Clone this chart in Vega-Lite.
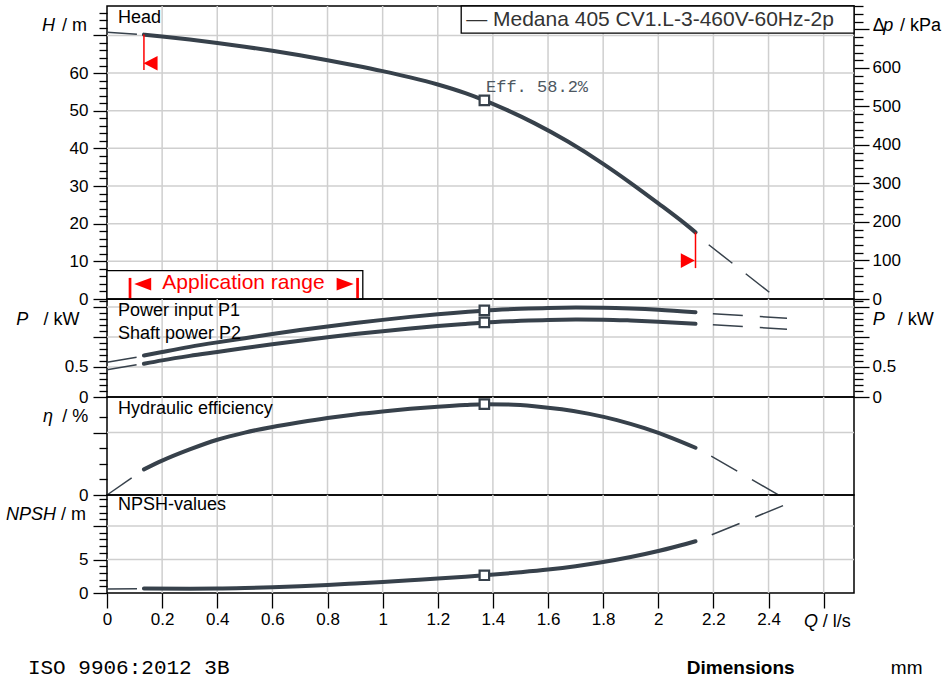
{
"$schema": "https://vega.github.io/schema/vega-lite/v6.json",
"padding": {"left": 5, "top": 4, "right": 0, "bottom": 0},
"background": "#ffffff",
"bounds": "flush",
"spacing": 0,
"config": {"view": {"stroke": "#000000", "strokeWidth": 1.5}, "font": "Liberation Sans", "axis": {"labelFont": "Liberation Sans", "labelFontSize": 17, "labelColor": "#000000", "tickColor": "#000000", "tickWidth": 1.3, "labelFlush": false, "labelOverlap": false, "labelBound": false, "grid": false, "domain": false}},
"resolve": {"scale": {"x": "independent", "y": "independent"}, "axis": {"x": "independent", "y": "independent"}},
"datasets": {
"xgrid": [{"q":0.2},{"q":0.4},{"q":0.6},{"q":0.8},{"q":1.0},{"q":1.2},{"q":1.4},{"q":1.6},{"q":1.8},{"q":2.0},{"q":2.2},{"q":2.4},{"q":2.6}],
"origin": [{"q":0,"v":0}],
"head_main": [{"q":0.134,"v":70.2},{"q":0.2,"v":69.7},{"q":0.3,"v":68.9},{"q":0.4,"v":68.0},{"q":0.5,"v":67.0},{"q":0.6,"v":65.9},{"q":0.7,"v":64.7},{"q":0.8,"v":63.4},{"q":0.9,"v":62.0},{"q":1.0,"v":60.5},{"q":1.1,"v":58.85},{"q":1.2,"v":56.95},{"q":1.3,"v":54.65},{"q":1.369,"v":52.75},{"q":1.45,"v":50.2},{"q":1.55,"v":46.7},{"q":1.672,"v":41.8},{"q":1.8,"v":35.9},{"q":1.9,"v":30.8},{"q":2.0,"v":25.4},{"q":2.1,"v":19.8},{"q":2.135,"v":17.7}],
"head_ext": [{"seg":"L","q":0,"v":70.8},{"seg":"L","q":0.109,"v":70.3},{"seg":"R","q":2.183,"v":14.4},{"seg":"R","q":2.3,"v":7.7},{"seg":"R","q":2.406,"v":1.6}],
"pow_main": [{"s":"P1","q":0.134,"v":0.692},{"s":"P1","q":0.2,"v":0.75},{"s":"P1","q":0.3,"v":0.835},{"s":"P1","q":0.4,"v":0.91},{"s":"P1","q":0.5,"v":0.98},{"s":"P1","q":0.6,"v":1.05},{"s":"P1","q":0.7,"v":1.115},{"s":"P1","q":0.8,"v":1.175},{"s":"P1","q":0.9,"v":1.232},{"s":"P1","q":1.0,"v":1.285},{"s":"P1","q":1.1,"v":1.335},{"s":"P1","q":1.2,"v":1.378},{"s":"P1","q":1.3,"v":1.415},{"s":"P1","q":1.369,"v":1.442},{"s":"P1","q":1.5,"v":1.47},{"s":"P1","q":1.6,"v":1.485},{"s":"P1","q":1.7,"v":1.49},{"s":"P1","q":1.8,"v":1.487},{"s":"P1","q":1.9,"v":1.475},{"s":"P1","q":2.0,"v":1.455},{"s":"P1","q":2.135,"v":1.413},
{"s":"P2","q":0.134,"v":0.553},{"s":"P2","q":0.2,"v":0.61},{"s":"P2","q":0.3,"v":0.685},{"s":"P2","q":0.4,"v":0.75},{"s":"P2","q":0.5,"v":0.815},{"s":"P2","q":0.6,"v":0.878},{"s":"P2","q":0.7,"v":0.938},{"s":"P2","q":0.8,"v":0.995},{"s":"P2","q":0.9,"v":1.048},{"s":"P2","q":1.0,"v":1.097},{"s":"P2","q":1.1,"v":1.142},{"s":"P2","q":1.2,"v":1.182},{"s":"P2","q":1.3,"v":1.218},{"s":"P2","q":1.369,"v":1.242},{"s":"P2","q":1.5,"v":1.27},{"s":"P2","q":1.6,"v":1.285},{"s":"P2","q":1.7,"v":1.29},{"s":"P2","q":1.8,"v":1.288},{"s":"P2","q":1.9,"v":1.275},{"s":"P2","q":2.0,"v":1.255},{"s":"P2","q":2.135,"v":1.22}],
"pow_ext": [{"seg":"P1L","q":0,"v":0.58},{"seg":"P1L","q":0.109,"v":0.663},{"seg":"P2L","q":0,"v":0.453},{"seg":"P2L","q":0.109,"v":0.537},{"seg":"P1R","q":2.198,"v":1.387},{"seg":"P1R","q":2.467,"v":1.313},{"seg":"P2R","q":2.198,"v":1.203},{"seg":"P2R","q":2.467,"v":1.13}],
"eff_main": [{"q":0.134,"v":16.4},{"q":0.2,"v":22.0},{"q":0.3,"v":29.2},{"q":0.4,"v":35.4},{"q":0.5,"v":40.0},{"q":0.6,"v":43.6},{"q":0.7,"v":46.6},{"q":0.8,"v":49.3},{"q":0.9,"v":51.6},{"q":1.0,"v":53.5},{"q":1.1,"v":55.2},{"q":1.2,"v":56.6},{"q":1.3,"v":57.7},{"q":1.369,"v":58.2},{"q":1.45,"v":58.0},{"q":1.55,"v":56.9},{"q":1.65,"v":54.9},{"q":1.75,"v":52.0},{"q":1.85,"v":48.0},{"q":1.95,"v":42.8},{"q":2.05,"v":36.5},{"q":2.135,"v":30.3}],
"eff_ext": [{"seg":"L","q":0,"v":0},{"seg":"L","q":0.091,"v":11.1},{"seg":"R","q":2.192,"v":24.9},{"seg":"R","q":2.437,"v":0}],
"npsh_main": [{"q":0.134,"v":0.66},{"q":0.3,"v":0.64},{"q":0.4,"v":0.66},{"q":0.5,"v":0.74},{"q":0.6,"v":0.86},{"q":0.7,"v":1.02},{"q":0.8,"v":1.2},{"q":0.9,"v":1.42},{"q":1.0,"v":1.65},{"q":1.1,"v":1.9},{"q":1.2,"v":2.16},{"q":1.3,"v":2.44},{"q":1.369,"v":2.65},{"q":1.5,"v":3.1},{"q":1.6,"v":3.5},{"q":1.7,"v":4.0},{"q":1.8,"v":4.62},{"q":1.9,"v":5.37},{"q":2.0,"v":6.27},{"q":2.1,"v":7.32},{"q":2.135,"v":7.74}],
"npsh_ext": [{"seg":"L","q":0,"v":0.6},{"seg":"L","q":0.109,"v":0.62},{"seg":"R","q":2.194,"v":8.7},{"seg":"R","q":2.455,"v":13.1}]
},
"vconcat": [
{
"width": 747, "height": 293,
"resolve": {"scale": {"y": "independent"}, "axis": {"y": "independent"}},
"layer": [
{
"layer": [
{"data": {"name": "xgrid"},
 "mark": {"type": "rule", "color": "#cfcfcf", "strokeWidth": 1.5},
 "encoding": {"x": {"field":"q","type":"quantitative","scale":{"domain":[0,2.71],"nice":false,"zero":false},"axis":null}}},
{"data": {"values": [{"v":10},{"v":20},{"v":30},{"v":40},{"v":50},{"v":60},{"v":70}]},
 "mark": {"type": "rule", "color": "#cfcfcf", "strokeWidth": 1.5},
 "encoding": {"y": {"field":"v","type":"quantitative","scale":{"domain":[0,77.8],"nice":false,"zero":false},"axis":null}}},
{"data": {"values": [{"q1":1.285,"q2":2.71,"v1":70.6,"v2":77.8},{"q1":0,"q2":0.928,"v1":0,"v2":7.54}]},
 "mark": {"type": "rect", "fill": "#ffffff", "stroke": "#000000", "strokeWidth": 1.3},
 "encoding": {"x": {"field":"q1","type":"quantitative","scale":{"domain":[0,2.71],"nice":false,"zero":false},"axis":null},"x2":{"field":"q2"},
  "y": {"field":"v1","type":"quantitative","scale":{"domain":[0,77.8],"nice":false,"zero":false},"axis":null},"y2":{"field":"v2"}}},
{"data": {"name": "head_main"},
 "mark": {"type": "line", "color": "#37414b", "strokeWidth": 4, "interpolate": "monotone", "strokeCap": "round"},
 "encoding": {
  "x": {"field":"q","type":"quantitative","scale":{"domain":[0,2.71],"nice":false,"zero":false},"axis":null},
  "y": {"field":"v","type":"quantitative","scale":{"domain":[0,77.8],"nice":false,"zero":false},"axis":null}}},
{"data": {"name": "head_ext"},
 "mark": {"type": "line", "color": "#37414b", "strokeWidth": 1.5, "strokeDash": [30, 17]},
 "encoding": {"detail": {"field":"seg"},
  "x": {"field":"q","type":"quantitative","scale":{"domain":[0,2.71],"nice":false,"zero":false},"axis":null},
  "y": {"field":"v","type":"quantitative","scale":{"domain":[0,77.8],"nice":false,"zero":false},"axis":null}}},
{"data": {"values": [{"q":0.134,"v1":60.8,"v2":70.2},{"q":2.135,"v1":8.2,"v2":17.7}]},
 "mark": {"type": "rule", "color": "#ff0000", "strokeWidth": 1.5},
 "encoding": {"x": {"field":"q","type":"quantitative","scale":{"domain":[0,2.71],"nice":false,"zero":false},"axis":null},
  "y": {"field":"v1","type":"quantitative","scale":{"domain":[0,77.8],"nice":false,"zero":false},"axis":null},"y2":{"field":"v2"}}},
{"data": {"values": [{"q":0.0835,"v1":0,"v2":5.6},{"q":0.909,"v1":0,"v2":5.6}]},
 "mark": {"type": "rule", "color": "#ff0000", "strokeWidth": 2.7},
 "encoding": {"x": {"field":"q","type":"quantitative","scale":{"domain":[0,2.71],"nice":false,"zero":false},"axis":null},
  "y": {"field":"v1","type":"quantitative","scale":{"domain":[0,77.8],"nice":false,"zero":false},"axis":null},"y2":{"field":"v2"}}},
{"data": {"values": [{"q":0.158,"v":62.6}]},
 "mark": {"type": "point", "shape": "M-1,0L1,-1.05L1,1.05Z", "size": 196, "filled": true, "color": "#ff0000", "opacity": 1},
 "encoding": {"x": {"field":"q","type":"quantitative","scale":{"domain":[0,2.71],"nice":false,"zero":false},"axis":null},
  "y": {"field":"v","type":"quantitative","scale":{"domain":[0,77.8],"nice":false,"zero":false},"axis":null}}},
{"data": {"values": [{"q":2.107,"v":10.2}]},
 "mark": {"type": "point", "shape": "M1,0L-1,-1.05L-1,1.05Z", "size": 196, "filled": true, "color": "#ff0000", "opacity": 1},
 "encoding": {"x": {"field":"q","type":"quantitative","scale":{"domain":[0,2.71],"nice":false,"zero":false},"axis":null},
  "y": {"field":"v","type":"quantitative","scale":{"domain":[0,77.8],"nice":false,"zero":false},"axis":null}}},
{"data": {"values": [{"q":0.1295,"v":3.96}]},
 "mark": {"type": "point", "shape": "M-1,0L1,-0.74L1,0.74Z", "size": 290, "filled": true, "color": "#ff0000", "opacity": 1},
 "encoding": {"x": {"field":"q","type":"quantitative","scale":{"domain":[0,2.71],"nice":false,"zero":false},"axis":null},
  "y": {"field":"v","type":"quantitative","scale":{"domain":[0,77.8],"nice":false,"zero":false},"axis":null}}},
{"data": {"values": [{"q":0.864,"v":3.96}]},
 "mark": {"type": "point", "shape": "M1,0L-1,-0.74L-1,0.74Z", "size": 290, "filled": true, "color": "#ff0000", "opacity": 1},
 "encoding": {"x": {"field":"q","type":"quantitative","scale":{"domain":[0,2.71],"nice":false,"zero":false},"axis":null},
  "y": {"field":"v","type":"quantitative","scale":{"domain":[0,77.8],"nice":false,"zero":false},"axis":null}}},
{"data": {"values": [{"q":1.369,"v":52.75}]},
 "mark": {"type": "point", "shape": "square", "size": 90, "filled": false, "fill": "#ffffff", "stroke": "#37414b", "strokeWidth": 2.2, "opacity": 1},
 "encoding": {"x": {"field":"q","type":"quantitative","scale":{"domain":[0,2.71],"nice":false,"zero":false},"axis":null},
  "y": {"field":"v","type":"quantitative","scale":{"domain":[0,77.8],"nice":false,"zero":false},"axis":null}}},
{"data": {"values": [{"q":0.04,"v":74.6,"t":"Head"},{"q":2.778,"v":72.6,"t":"Δ"},{"q":2.877,"v":72.6,"t":"/ kPa"}]},
 "mark": {"type": "text", "align": "left", "baseline": "middle", "fontSize": 18, "color": "#000000"},
 "encoding": {"text": {"field":"t"},"x": {"field":"q","type":"quantitative","scale":{"domain":[0,2.71],"nice":false,"zero":false},"axis":null},
  "y": {"field":"v","type":"quantitative","scale":{"domain":[0,77.8],"nice":false,"zero":false},"axis":null}}},
{"data": {"values": [{"q":2.816,"v":72.6,"t":"p"}]},
 "mark": {"type": "text", "align": "left", "baseline": "middle", "fontSize": 18, "fontStyle": "italic", "color": "#000000"},
 "encoding": {"text": {"field":"t"},"x": {"field":"q","type":"quantitative","scale":{"domain":[0,2.71],"nice":false,"zero":false},"axis":null},
  "y": {"field":"v","type":"quantitative","scale":{"domain":[0,77.8],"nice":false,"zero":false},"axis":null}}},
{"data": {"values": [{"q":-0.189,"v":72.6,"t":"H"}]},
 "mark": {"type": "text", "align": "right", "baseline": "middle", "fontSize": 18, "fontStyle": "italic", "color": "#000000"},
 "encoding": {"text": {"field":"t"},"x": {"field":"q","type":"quantitative","scale":{"domain":[0,2.71],"nice":false,"zero":false},"axis":null},
  "y": {"field":"v","type":"quantitative","scale":{"domain":[0,77.8],"nice":false,"zero":false},"axis":null}}},
{"data": {"values": [{"q":-0.0726,"v":72.6,"t":"/ m"}]},
 "mark": {"type": "text", "align": "right", "baseline": "middle", "fontSize": 18, "color": "#000000"},
 "encoding": {"text": {"field":"t"},"x": {"field":"q","type":"quantitative","scale":{"domain":[0,2.71],"nice":false,"zero":false},"axis":null},
  "y": {"field":"v","type":"quantitative","scale":{"domain":[0,77.8],"nice":false,"zero":false},"axis":null}}},
{"data": {"values": [{"q":1.303,"v":74.1,"t":"— Medana 405 CV1.L-3-460V-60Hz-2p"}]},
 "mark": {"type": "text", "align": "left", "baseline": "middle", "fontSize": 21, "color": "#333333"},
 "encoding": {"text": {"field":"t"},"x": {"field":"q","type":"quantitative","scale":{"domain":[0,2.71],"nice":false,"zero":false},"axis":null},
  "y": {"field":"v","type":"quantitative","scale":{"domain":[0,77.8],"nice":false,"zero":false},"axis":null}}},
{"data": {"values": [{"q":1.375,"v":56.2,"t":"Eff. 58.2%"}]},
 "mark": {"type": "text", "align": "left", "baseline": "middle", "fontSize": 17, "font": "Liberation Mono", "color": "#4d5761"},
 "encoding": {"text": {"field":"t"},"x": {"field":"q","type":"quantitative","scale":{"domain":[0,2.71],"nice":false,"zero":false},"axis":null},
  "y": {"field":"v","type":"quantitative","scale":{"domain":[0,77.8],"nice":false,"zero":false},"axis":null}}},
{"data": {"values": [{"q":0.495,"v":4.25,"t":"Application range"}]},
 "mark": {"type": "text", "align": "center", "baseline": "middle", "fontSize": 21, "color": "#ff0000"},
 "encoding": {"text": {"field":"t"},"x": {"field":"q","type":"quantitative","scale":{"domain":[0,2.71],"nice":false,"zero":false},"axis":null},
  "y": {"field":"v","type":"quantitative","scale":{"domain":[0,77.8],"nice":false,"zero":false},"axis":null}}}
]
},
{"data": {"name": "origin"},
 "mark": {"type": "point", "opacity": 0},
 "encoding": {"x": {"field":"q","type":"quantitative","scale":{"domain":[0,2.71],"nice":false,"zero":false},"axis":null},
  "y": {"field":"v","type":"quantitative","scale":{"domain":[0,77.8],"nice":false,"zero":false},
   "axis":{"orient":"left","values":[0,2,4,6,8,10,12,14,16,18,20,22,24,26,28,30,32,34,36,38,40,42,44,46,48,50,52,54,56,58,60,62,64,66,68,70,72,74,76],
    "title":null,"domain":false,"grid":false,
    "tickSize":{"condition":{"test":"datum.value % 10 === 0","value":14},"value":8},
    "labelFontSize":{"condition":{"test":"datum.value % 10 === 0 && datum.value <= 60","value":17},"value":1},
    "labelExpr":"datum.value % 10 === 0 && datum.value <= 60 ? '' + datum.value : ''","labelPadding":5}}}},
{"data": {"name": "origin"},
 "mark": {"type": "point", "opacity": 0},
 "encoding": {"x": {"field":"q","type":"quantitative","scale":{"domain":[0,2.71],"nice":false,"zero":false},"axis":null},
  "y": {"field":"v","type":"quantitative","scale":{"domain":[0,761],"nice":false,"zero":false},
   "axis":{"orient":"right","values":[0,20,40,60,80,100,120,140,160,180,200,220,240,260,280,300,320,340,360,380,400,420,440,460,480,500,520,540,560,580,600,620,640,660,680,700,720,740,760],
    "title":null,"domain":false,"grid":false,
    "tickSize":{"condition":{"test":"datum.value % 100 === 0","value":15},"value":9},
    "labelFontSize":{"condition":{"test":"datum.value % 100 === 0 && datum.value <= 600","value":17},"value":1},
    "labelExpr":"datum.value % 100 === 0 && datum.value <= 600 ? '' + datum.value : ''","labelPadding":3}}}}
]
},
{
"width": 747, "height": 98,
"resolve": {"scale": {"y": "independent"}, "axis": {"y": "independent"}},
"layer": [
{
"layer": [
{"data": {"name": "xgrid"},
 "mark": {"type": "rule", "color": "#cfcfcf", "strokeWidth": 1.5},
 "encoding": {"x": {"field":"q","type":"quantitative","scale":{"domain":[0,2.71],"nice":false,"zero":false},"axis":null}}},
{"data": {"values": [{"v":0.5},{"v":1.0},{"v":1.5}]},
 "mark": {"type": "rule", "color": "#cfcfcf", "strokeWidth": 1.5},
 "encoding": {"y": {"field":"v","type":"quantitative","scale":{"domain":[0,1.633],"nice":false,"zero":false},"axis":null}}},
{"data": {"name": "pow_main"},
 "mark": {"type": "line", "color": "#37414b", "strokeWidth": 4, "interpolate": "monotone", "strokeCap": "round"},
 "encoding": {"detail": {"field":"s"},
  "x": {"field":"q","type":"quantitative","scale":{"domain":[0,2.71],"nice":false,"zero":false},"axis":null},
  "y": {"field":"v","type":"quantitative","scale":{"domain":[0,1.633],"nice":false,"zero":false},"axis":null}}},
{"data": {"name": "pow_ext"},
 "mark": {"type": "line", "color": "#37414b", "strokeWidth": 1.5, "strokeDash": [30, 17]},
 "encoding": {"detail": {"field":"seg"},
  "x": {"field":"q","type":"quantitative","scale":{"domain":[0,2.71],"nice":false,"zero":false},"axis":null},
  "y": {"field":"v","type":"quantitative","scale":{"domain":[0,1.633],"nice":false,"zero":false},"axis":null}}},
{"data": {"values": [{"q":1.369,"v":1.442},{"q":1.369,"v":1.242}]},
 "mark": {"type": "point", "shape": "square", "size": 90, "filled": false, "fill": "#ffffff", "stroke": "#37414b", "strokeWidth": 2.2, "opacity": 1},
 "encoding": {"x": {"field":"q","type":"quantitative","scale":{"domain":[0,2.71],"nice":false,"zero":false},"axis":null},
  "y": {"field":"v","type":"quantitative","scale":{"domain":[0,1.633],"nice":false,"zero":false},"axis":null}}},
{"data": {"values": [{"q":0.04,"v":1.425,"t":"Power input P1"},{"q":0.04,"v":1.058,"t":"Shaft power P2"},{"q":2.869,"v":1.29,"t":"/ kW"}]},
 "mark": {"type": "text", "align": "left", "baseline": "middle", "fontSize": 18, "color": "#000000"},
 "encoding": {"text": {"field":"t"},"x": {"field":"q","type":"quantitative","scale":{"domain":[0,2.71],"nice":false,"zero":false},"axis":null},
  "y": {"field":"v","type":"quantitative","scale":{"domain":[0,1.633],"nice":false,"zero":false},"axis":null}}},
{"data": {"values": [{"q":2.778,"v":1.29,"t":"P"}]},
 "mark": {"type": "text", "align": "left", "baseline": "middle", "fontSize": 18, "fontStyle": "italic", "color": "#000000"},
 "encoding": {"text": {"field":"t"},"x": {"field":"q","type":"quantitative","scale":{"domain":[0,2.71],"nice":false,"zero":false},"axis":null},
  "y": {"field":"v","type":"quantitative","scale":{"domain":[0,1.633],"nice":false,"zero":false},"axis":null}}},
{"data": {"values": [{"q":-0.286,"v":1.29,"t":"P"}]},
 "mark": {"type": "text", "align": "right", "baseline": "middle", "fontSize": 18, "fontStyle": "italic", "color": "#000000"},
 "encoding": {"text": {"field":"t"},"x": {"field":"q","type":"quantitative","scale":{"domain":[0,2.71],"nice":false,"zero":false},"axis":null},
  "y": {"field":"v","type":"quantitative","scale":{"domain":[0,1.633],"nice":false,"zero":false},"axis":null}}},
{"data": {"values": [{"q":-0.1,"v":1.29,"t":"/ kW"}]},
 "mark": {"type": "text", "align": "right", "baseline": "middle", "fontSize": 18, "color": "#000000"},
 "encoding": {"text": {"field":"t"},"x": {"field":"q","type":"quantitative","scale":{"domain":[0,2.71],"nice":false,"zero":false},"axis":null},
  "y": {"field":"v","type":"quantitative","scale":{"domain":[0,1.633],"nice":false,"zero":false},"axis":null}}}
]
},
{"data": {"name": "origin"},
 "mark": {"type": "point", "opacity": 0},
 "encoding": {"x": {"field":"q","type":"quantitative","scale":{"domain":[0,2.71],"nice":false,"zero":false},"axis":null},
  "y": {"field":"v","type":"quantitative","scale":{"domain":[0,1.633],"nice":false,"zero":false},
   "axis":{"orient":"left","values":[0,0.1,0.2,0.3,0.4,0.5,0.6,0.7,0.8,0.9,1,1.1,1.2,1.3,1.4,1.5,1.6],
    "title":null,"domain":false,"grid":false,
    "tickSize":{"condition":{"test":"round(datum.value*10) % 5 === 0","value":14},"value":8},
    "labelFontSize":{"condition":{"test":"round(datum.value*10) === 0 || round(datum.value*10) === 5","value":17},"value":1},
    "labelExpr":"datum.value === 0 ? '0' : (round(datum.value*10) === 5 ? '0.5' : '')","labelPadding":5}}}},
{"data": {"name": "origin"},
 "mark": {"type": "point", "opacity": 0},
 "encoding": {"x": {"field":"q","type":"quantitative","scale":{"domain":[0,2.71],"nice":false,"zero":false},"axis":null},
  "y": {"field":"v","type":"quantitative","scale":{"domain":[0,1.633],"nice":false,"zero":false},
   "axis":{"orient":"right","values":[0,0.1,0.2,0.3,0.4,0.5,0.6,0.7,0.8,0.9,1,1.1,1.2,1.3,1.4,1.5,1.6],
    "title":null,"domain":false,"grid":false,
    "tickSize":{"condition":{"test":"round(datum.value*10) % 5 === 0","value":15},"value":9},
    "labelFontSize":{"condition":{"test":"round(datum.value*10) === 0 || round(datum.value*10) === 5","value":17},"value":1},
    "labelExpr":"datum.value === 0 ? '0' : (round(datum.value*10) === 5 ? '0.5' : '')","labelPadding":3}}}}
]
},
{
"width": 747, "height": 98,
"resolve": {"scale": {"y": "independent"}, "axis": {"y": "independent"}},
"layer": [
{
"layer": [
{"data": {"name": "xgrid"},
 "mark": {"type": "rule", "color": "#cfcfcf", "strokeWidth": 1.5},
 "encoding": {"x": {"field":"q","type":"quantitative","scale":{"domain":[0,2.71],"nice":false,"zero":false},"axis":null}}},
{"data": {"values": [{"v":40}]},
 "mark": {"type": "rule", "color": "#cfcfcf", "strokeWidth": 1.5},
 "encoding": {"y": {"field":"v","type":"quantitative","scale":{"domain":[0,62.8],"nice":false,"zero":false},"axis":null}}},
{"data": {"name": "eff_main"},
 "mark": {"type": "line", "color": "#37414b", "strokeWidth": 4, "interpolate": "monotone", "strokeCap": "round"},
 "encoding": {
  "x": {"field":"q","type":"quantitative","scale":{"domain":[0,2.71],"nice":false,"zero":false},"axis":null},
  "y": {"field":"v","type":"quantitative","scale":{"domain":[0,62.8],"nice":false,"zero":false},"axis":null}}},
{"data": {"name": "eff_ext"},
 "mark": {"type": "line", "color": "#37414b", "strokeWidth": 1.5, "strokeDash": [30, 17]},
 "encoding": {"detail": {"field":"seg"},
  "x": {"field":"q","type":"quantitative","scale":{"domain":[0,2.71],"nice":false,"zero":false},"axis":null},
  "y": {"field":"v","type":"quantitative","scale":{"domain":[0,62.8],"nice":false,"zero":false},"axis":null}}},
{"data": {"values": [{"q":1.369,"v":58.2}]},
 "mark": {"type": "point", "shape": "square", "size": 90, "filled": false, "fill": "#ffffff", "stroke": "#37414b", "strokeWidth": 2.2, "opacity": 1},
 "encoding": {"x": {"field":"q","type":"quantitative","scale":{"domain":[0,2.71],"nice":false,"zero":false},"axis":null},
  "y": {"field":"v","type":"quantitative","scale":{"domain":[0,62.8],"nice":false,"zero":false},"axis":null}}},
{"data": {"values": [{"q":0.04,"v":54.9,"t":"Hydraulic efficiency"}]},
 "mark": {"type": "text", "align": "left", "baseline": "middle", "fontSize": 18, "color": "#000000"},
 "encoding": {"text": {"field":"t"},"x": {"field":"q","type":"quantitative","scale":{"domain":[0,2.71],"nice":false,"zero":false},"axis":null},
  "y": {"field":"v","type":"quantitative","scale":{"domain":[0,62.8],"nice":false,"zero":false},"axis":null}}},
{"data": {"values": [{"q":-0.196,"v":49.8,"t":"η"}]},
 "mark": {"type": "text", "align": "right", "baseline": "middle", "fontSize": 18, "fontStyle": "italic", "color": "#000000"},
 "encoding": {"text": {"field":"t"},"x": {"field":"q","type":"quantitative","scale":{"domain":[0,2.71],"nice":false,"zero":false},"axis":null},
  "y": {"field":"v","type":"quantitative","scale":{"domain":[0,62.8],"nice":false,"zero":false},"axis":null}}},
{"data": {"values": [{"q":-0.068,"v":49.8,"t":"/ %"}]},
 "mark": {"type": "text", "align": "right", "baseline": "middle", "fontSize": 18, "color": "#000000"},
 "encoding": {"text": {"field":"t"},"x": {"field":"q","type":"quantitative","scale":{"domain":[0,2.71],"nice":false,"zero":false},"axis":null},
  "y": {"field":"v","type":"quantitative","scale":{"domain":[0,62.8],"nice":false,"zero":false},"axis":null}}}
]
},
{"data": {"name": "origin"},
 "mark": {"type": "point", "opacity": 0},
 "encoding": {"x": {"field":"q","type":"quantitative","scale":{"domain":[0,2.71],"nice":false,"zero":false},"axis":null},
  "y": {"field":"v","type":"quantitative","scale":{"domain":[0,62.8],"nice":false,"zero":false},
   "axis":{"orient":"left","values":[0,10,20,30,40,50],
    "title":null,"domain":false,"grid":false,
    "tickSize":{"condition":{"test":"datum.value % 40 === 0","value":14},"value":8},
    "labelFontSize":{"condition":{"test":"datum.value === 0","value":17},"value":1},
    "labelExpr":"datum.value === 0 ? '0' : ''","labelPadding":5}}}}
]
},
{
"width": 747, "height": 98,
"resolve": {"scale": {"y": "independent"}, "axis": {"y": "independent"}},
"layer": [
{
"layer": [
{"data": {"name": "xgrid"},
 "mark": {"type": "rule", "color": "#cfcfcf", "strokeWidth": 1.5},
 "encoding": {"x": {"field":"q","type":"quantitative","scale":{"domain":[0,2.71],"nice":false,"zero":false},"axis":{"title":null}}}},
{"data": {"values": [{"v":5},{"v":10}]},
 "mark": {"type": "rule", "color": "#cfcfcf", "strokeWidth": 1.5},
 "encoding": {"y": {"field":"v","type":"quantitative","scale":{"domain":[0,14.65],"nice":false,"zero":false},"axis":null}}},
{"data": {"name": "npsh_main"},
 "mark": {"type": "line", "color": "#37414b", "strokeWidth": 4, "interpolate": "monotone", "strokeCap": "round"},
 "encoding": {
  "x": {"field":"q","type":"quantitative","scale":{"domain":[0,2.71],"nice":false,"zero":false},
   "axis":{"orient":"bottom","values":[0,0.05,0.1,0.15,0.2,0.25,0.3,0.35,0.4,0.45,0.5,0.55,0.6,0.65,0.7,0.75,0.8,0.85,0.9,0.95,1,1.05,1.1,1.15,1.2,1.25,1.3,1.35,1.4,1.45,1.5,1.55,1.6,1.65,1.7,1.75,1.8,1.85,1.9,1.95,2,2.05,2.1,2.15,2.2,2.25,2.3,2.35,2.4,2.45,2.5,2.55,2.6,2.65,2.7],
    "title":null,"domain":false,"grid":false,
    "tickSize":{"condition":{"test":"round(datum.value*20) % 4 === 0","value":15},"value":8},
    "labelFontSize":{"condition":{"test":"round(datum.value*20) % 4 === 0 && datum.value < 2.5","value":17},"value":1},
    "labelExpr":"round(datum.value*20) % 4 === 0 && datum.value < 2.5 ? '' + datum.value : ''","labelPadding":3}},
  "y": {"field":"v","type":"quantitative","scale":{"domain":[0,14.65],"nice":false,"zero":false},"axis":null}}},
{"data": {"name": "npsh_ext"},
 "mark": {"type": "line", "color": "#37414b", "strokeWidth": 1.5, "strokeDash": [30, 17]},
 "encoding": {"detail": {"field":"seg"},
  "x": {"field":"q","type":"quantitative","scale":{"domain":[0,2.71],"nice":false,"zero":false},"axis":{"title":null}},
  "y": {"field":"v","type":"quantitative","scale":{"domain":[0,14.65],"nice":false,"zero":false},"axis":null}}},
{"data": {"values": [{"q":1.369,"v":2.65}]},
 "mark": {"type": "point", "shape": "square", "size": 90, "filled": false, "fill": "#ffffff", "stroke": "#37414b", "strokeWidth": 2.2, "opacity": 1},
 "encoding": {"x": {"field":"q","type":"quantitative","scale":{"domain":[0,2.71],"nice":false,"zero":false},"axis":{"title":null}},
  "y": {"field":"v","type":"quantitative","scale":{"domain":[0,14.65],"nice":false,"zero":false},"axis":null}}},
{"data": {"values": [{"q":0.04,"v":13.1,"t":"NPSH-values"},{"q":2.597,"v":-4.4,"t":"/ l/s"}]},
 "mark": {"type": "text", "align": "left", "baseline": "middle", "fontSize": 18, "color": "#000000"},
 "encoding": {"text": {"field":"t"},"x": {"field":"q","type":"quantitative","scale":{"domain":[0,2.71],"nice":false,"zero":false},"axis":{"title":null}},
  "y": {"field":"v","type":"quantitative","scale":{"domain":[0,14.65],"nice":false,"zero":false},"axis":null}}},
{"data": {"values": [{"q":2.529,"v":-4.4,"t":"Q"}]},
 "mark": {"type": "text", "align": "left", "baseline": "middle", "fontSize": 18, "fontStyle": "italic", "color": "#000000"},
 "encoding": {"text": {"field":"t"},"x": {"field":"q","type":"quantitative","scale":{"domain":[0,2.71],"nice":false,"zero":false},"axis":{"title":null}},
  "y": {"field":"v","type":"quantitative","scale":{"domain":[0,14.65],"nice":false,"zero":false},"axis":null}}},
{"data": {"values": [{"q":-0.185,"v":11.65,"t":"NPSH"}]},
 "mark": {"type": "text", "align": "right", "baseline": "middle", "fontSize": 18, "fontStyle": "italic", "color": "#000000"},
 "encoding": {"text": {"field":"t"},"x": {"field":"q","type":"quantitative","scale":{"domain":[0,2.71],"nice":false,"zero":false},"axis":{"title":null}},
  "y": {"field":"v","type":"quantitative","scale":{"domain":[0,14.65],"nice":false,"zero":false},"axis":null}}},
{"data": {"values": [{"q":-0.076,"v":11.65,"t":"/ m"}]},
 "mark": {"type": "text", "align": "right", "baseline": "middle", "fontSize": 18, "color": "#000000"},
 "encoding": {"text": {"field":"t"},"x": {"field":"q","type":"quantitative","scale":{"domain":[0,2.71],"nice":false,"zero":false},"axis":{"title":null}},
  "y": {"field":"v","type":"quantitative","scale":{"domain":[0,14.65],"nice":false,"zero":false},"axis":null}}},
{"data": {"values": [{"q":-0.287,"v":-11.25,"t":"ISO 9906:2012 3B"}]},
 "mark": {"type": "text", "align": "left", "baseline": "middle", "fontSize": 21, "font": "Liberation Mono", "color": "#000000"},
 "encoding": {"text": {"field":"t"},"x": {"field":"q","type":"quantitative","scale":{"domain":[0,2.71],"nice":false,"zero":false},"axis":{"title":null}},
  "y": {"field":"v","type":"quantitative","scale":{"domain":[0,14.65],"nice":false,"zero":false},"axis":null}}},
{"data": {"values": [{"q":2.299,"v":-11.25,"t":"Dimensions"}]},
 "mark": {"type": "text", "align": "center", "baseline": "middle", "fontSize": 19, "fontWeight": "bold", "color": "#000000"},
 "encoding": {"text": {"field":"t"},"x": {"field":"q","type":"quantitative","scale":{"domain":[0,2.71],"nice":false,"zero":false},"axis":{"title":null}},
  "y": {"field":"v","type":"quantitative","scale":{"domain":[0,14.65],"nice":false,"zero":false},"axis":null}}},
{"data": {"values": [{"q":2.901,"v":-11.25,"t":"mm"}]},
 "mark": {"type": "text", "align": "center", "baseline": "middle", "fontSize": 19, "color": "#000000"},
 "encoding": {"text": {"field":"t"},"x": {"field":"q","type":"quantitative","scale":{"domain":[0,2.71],"nice":false,"zero":false},"axis":{"title":null}},
  "y": {"field":"v","type":"quantitative","scale":{"domain":[0,14.65],"nice":false,"zero":false},"axis":null}}}
]
},
{"data": {"name": "origin"},
 "mark": {"type": "point", "opacity": 0},
 "encoding": {"x": {"field":"q","type":"quantitative","scale":{"domain":[0,2.71],"nice":false,"zero":false},"axis":{"title":null}},
  "y": {"field":"v","type":"quantitative","scale":{"domain":[0,14.65],"nice":false,"zero":false},
   "axis":{"orient":"left","values":[0,1,2,3,4,5,6,7,8,9,10,11,12,13,14],
    "title":null,"domain":false,"grid":false,
    "tickSize":{"condition":{"test":"datum.value % 5 === 0","value":14},"value":8},
    "labelFontSize":{"condition":{"test":"datum.value === 0 || datum.value === 5","value":17},"value":1},
    "labelExpr":"datum.value % 5 === 0 && datum.value <= 5 ? '' + datum.value : ''","labelPadding":5}}}}
]
}
]
}
